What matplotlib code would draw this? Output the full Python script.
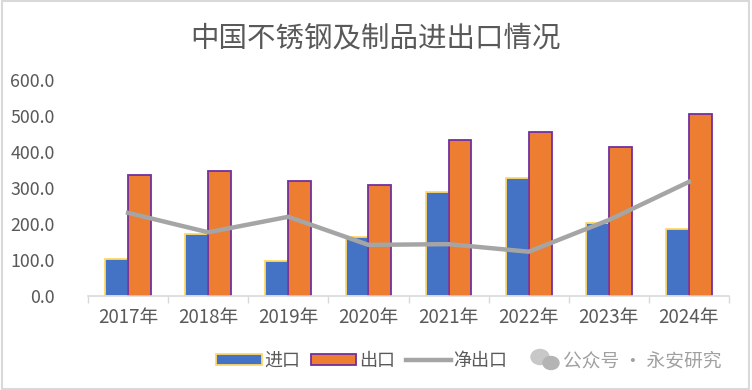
import numpy as np
import matplotlib.pyplot as plt
from matplotlib.patches import Rectangle, Ellipse

plt.rcParams['font.family'] = ['Noto Sans CJK SC', 'DejaVu Sans']

years = ['2017年', '2018年', '2019年', '2020年', '2021年', '2022年', '2023年', '2024年']
imports = [103, 172, 98, 165, 290, 329, 202, 186]
exports = [336, 346, 319, 307, 432, 455, 413, 505]
net_exports = [231, 177, 220, 142, 144, 123, 211, 317]
yticks = [0, 100, 200, 300, 400, 500, 600]

TXT = '#595959'

fig = plt.figure(figsize=(7.52, 3.9), dpi=100)
fig.patch.set_facecolor('white')
ax = fig.add_axes([88 / 752, 1 - 296 / 390, 641 / 752, 216 / 390])

x = np.arange(len(years))
w = 0.285
b1 = ax.bar(x - w / 2, imports, w, color='#4472C4', edgecolor='#FFD966',
            linewidth=1.3, label='进口', zorder=2)
b2 = ax.bar(x + w / 2, exports, w, color='#ED7D31', edgecolor='#7030A0',
            linewidth=1.3, label='出口', zorder=2)
l1, = ax.plot(x, net_exports, color='#A5A5A5', lw=3.2, label='净出口',
              zorder=3, solid_joinstyle='round')

ax.set_xlim(-0.5, len(years) - 0.5)
ax.set_ylim(0, 600)
ax.set_yticks(yticks)
ax.set_yticklabels([f'{v:.1f}' for v in yticks], fontsize=12.8, color=TXT)
ax.set_xticks(x)
ax.set_xticklabels(years, fontsize=13.5, color=TXT)
ax.tick_params(axis='x', length=0, pad=8)
ax.tick_params(axis='y', length=0, pad=24)
ax.set_xticks(np.arange(-0.5, len(years)), minor=True)
ax.tick_params(axis='x', which='minor', length=5, color='#D9D9D9', width=1)
for s in ['top', 'right', 'left']:
    ax.spines[s].set_visible(False)
ax.spines['bottom'].set_color('#D9D9D9')
ax.spines['bottom'].set_linewidth(1.2)

fig.text(0.5, 1 - 38 / 390, '中国不锈钢及制品进出口情况', ha='center', va='center',
         fontsize=20.5, color=TXT)

leg = fig.legend([b1, b2, l1], ['进口', '出口', '净出口'], loc='center',
                 bbox_to_anchor=(362 / 752, 1 - 361 / 390), ncol=3,
                 frameon=False, fontsize=13, handlelength=2.5, handleheight=0.5,
                 handletextpad=0.15, columnspacing=0.6, labelcolor=TXT)

# watermark
fig.add_artist(Ellipse((540 / 752, 1 - 357 / 390), 18 / 752, 15 / 390,
                       transform=fig.transFigure, color='#c8c8c8', zorder=5))
fig.add_artist(Ellipse((551 / 752, 1 - 363 / 390), 16 / 752, 13 / 390,
                       transform=fig.transFigure, color='#b4b4b4', zorder=5))
fig.text(563 / 752, 1 - 361 / 390, '公众号 · 永安研究', ha='left', va='center',
         fontsize=13.5, color='#a0a0a0')

fig.add_artist(Rectangle((0.002, 0.003), 0.994, 0.994, transform=fig.transFigure,
                         fill=False, edgecolor='#D9D9D9', lw=1.5))

fig.savefig('out.png', dpi=100, facecolor='white')
